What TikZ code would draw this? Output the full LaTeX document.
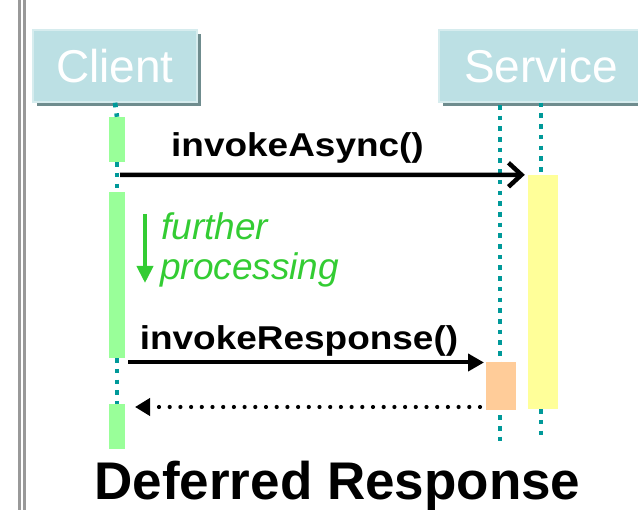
\documentclass[tikz,border=0pt]{standalone}
\usepackage{fontspec}
\setmainfont{Liberation Sans}
\newfontfamily\msgfont[FakeStretch=1.12]{Liberation Sans}
\usetikzlibrary{arrows.meta}

\definecolor{boxfill}{HTML}{BCE0E4}
\definecolor{boxedge}{HTML}{D6ECEE}
\definecolor{boxshadow}{HTML}{6F8C8E}
\definecolor{lifeteal}{HTML}{009999}
\definecolor{actgreen}{HTML}{99FF99}
\definecolor{actyellow}{HTML}{FFFF99}
\definecolor{actorange}{HTML}{FFCC99}
\definecolor{notegreen}{HTML}{33CC33}
\definecolor{framegray}{HTML}{999999}

\begin{document}
\begin{tikzpicture}[x=1pt, y=-1pt,
    objbox/.style={fill=boxfill, draw=boxedge, line width=1.5pt, text=white,
        minimum height=72pt, inner sep=0pt, font=\fontsize{46}{46}\selectfont},
    actbar/.style={inner sep=0pt, minimum width=30pt},
    lifeline/.style={draw=lifeteal, line width=4.6pt, dash pattern=on 4.6pt off 6.1pt},
    msglabel/.style={anchor=base, inner sep=0pt, font=\msgfont\bfseries\fontsize{33}{33}\selectfont},
    notetext/.style={anchor=base west, inner sep=0pt, text=notegreen,
        font=\itshape\fontsize{37}{37}\selectfont}]
\useasboundingbox (0,0) rectangle (638,510);
\clip (0,0) rectangle (638,510);

%% 左边的双线
\foreach \x in {19.7, 24.3}
{
    \draw [framegray, line width=2.8pt] (\x, 0) -- (\x, 510);
}

%% 对象框
\fill [boxshadow] (37, 34) rectangle (201, 106);
\node [objbox, minimum width=164pt] (client) at (115, 66) {Client};
\fill [boxshadow] (443, 34) rectangle (660, 106);
\node [objbox, minimum width=204pt] (service) at (541, 66) {Service};

%% 激活条
\node [actbar, minimum width=16pt, minimum height=45pt, fill=actgreen] (c1) at (117, 139.5) {};
\node [actbar, minimum width=16pt, minimum height=166pt, fill=actgreen] (c2) at (117, 275) {};
\node [actbar, minimum width=16pt, minimum height=45pt, fill=actgreen] (c3) at (117, 426.5) {};
\coordinate (s1top) at (500, 105);
\coordinate (s1end) at (500, 441);
\coordinate (s2end) at (541, 438);

%% 生命线
\draw [lifeline] (client.south) -- (c1.north);
\draw [lifeline] (c1.south) -- (c2.north);
\draw [lifeline] (c2.south) -- (c3.north);
\draw [lifeline] (s1top) -- (s1end);
\node [actbar, minimum height=234pt, fill=actyellow] (yel) at (543, 292) {};
\node [actbar, minimum height=48pt, fill=actorange] (org) at (501, 386) {};
\draw [lifeline] (service.south) -- (service.south |- yel.north);
\draw [lifeline] (service.south |- yel.south) -- (s2end);

%% invokeAsync()
\coordinate (asyncstart) at (120, 175);
\draw [line width=4.5pt, -{Straight Barb[length=13pt, width=24pt, line width=4.5pt]}, shorten >=3pt]
    (asyncstart) -- (yel.north west);
\node [msglabel] (asynclbl) at (297.5, 157) {invokeAsync()};

%% further processing
\node [notetext] (further) at (161, 240) {further};
\node [notetext] (processing) at (160, 280) {processing};
\coordinate (procstart) at (145, 214);
\coordinate (procend) at (145, 283);
\draw [notegreen, line width=4pt, -{Triangle[length=17pt, width=16pt]}] (procstart) -- (procend);

%% invokeResponse()
\coordinate (respstart) at (128, 362.5);
\coordinate (respend) at (484, 362.5);
\draw [line width=4pt, -{Triangle[length=16pt, width=17pt]}] (respstart) -- (respend);
\node [msglabel] (resplbl) at (299, 350) {invokeResponse()};

%% 返回
\coordinate (retstart) at (480, 407);
\coordinate (retend) at (135, 407);
\draw [line width=4.2pt, line cap=round, dash pattern=on 0pt off 10.7pt,
    -{Triangle[length=15pt, width=17pt, line cap=butt]}] (retstart) -- (retend);

%% 标题
\node [anchor=base, inner sep=0pt, font=\bfseries\fontsize{53}{53}\selectfont] (title)
    at (337.5, 500) {Deferred Response};

\end{tikzpicture}
\end{document}
